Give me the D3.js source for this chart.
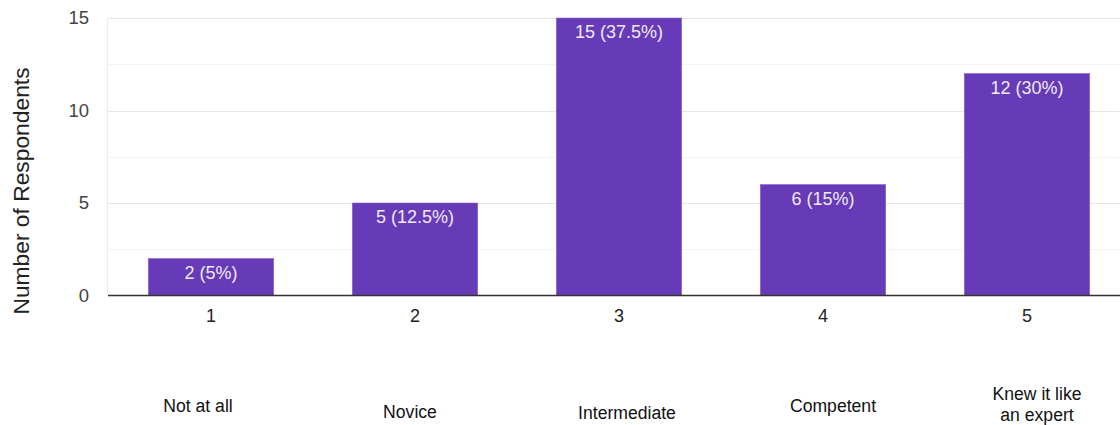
<!DOCTYPE html>
<html>
<head>
<meta charset="utf-8">
<script src="https://cdn.jsdelivr.net/npm/d3@7"></script>
<style>
  html, body { margin: 0; padding: 0; background: #fff; }
  svg { display: block; font-family: "Liberation Sans", Arial, sans-serif; }
</style>
</head>
<body>
<svg id="chart" width="1120" height="425"></svg>
<script>
const categories = ["1", "2", "3", "4", "5"];
const counts = [2, 5, 15, 6, 12];
const percents = ["5%", "12.5%", "37.5%", "15%", "30%"];
const descriptors = [["Not at all"], ["Novice"], ["Intermediate"], ["Competent"], ["Knew it like", "an expert"]];
const yTicks = [0, 5, 10, 15];
const yMinorTicks = [2.5, 7.5, 12.5];
const yTitle = "Number of Respondents";

// layout (styling only)
const descOffsetX = [-13, -5, 8, 10, 10];
const descOffsetY = [412, 418, 419, 412, 400];

const svg = d3.select("#chart");
const plotLeft = 108, plotTop = 18, plotBottom = 295.5;
const x = d3.scaleBand().domain(categories).range([plotLeft + 1, plotLeft + 1 + 5 * 204]).paddingInner(0.385).paddingOuter(0.1925);
const y = d3.scaleLinear().domain([0, 15]).range([plotBottom, plotTop]);

// minor gridlines
svg.append("g").selectAll("line").data(yMinorTicks).join("line")
  .attr("x1", plotLeft).attr("x2", 1120)
  .attr("y1", d => Math.round(y(d)) + 0.5).attr("y2", d => Math.round(y(d)) + 0.5)
  .attr("stroke", "#f3f3f3").attr("stroke-width", 1);
// major gridlines
svg.append("g").selectAll("line").data(yTicks.filter(d => d > 0)).join("line")
  .attr("x1", plotLeft).attr("x2", 1120)
  .attr("y1", d => Math.round(y(d)) + 0.5).attr("y2", d => Math.round(y(d)) + 0.5)
  .attr("stroke", "#e6e6e6").attr("stroke-width", 1);
// left border
svg.append("line").attr("x1", plotLeft - 0.5).attr("x2", plotLeft - 0.5).attr("y1", plotTop).attr("y2", plotBottom)
  .attr("stroke", "#ececec");

// y axis labels
const yAxis = d3.axisLeft(y).tickValues(yTicks).tickSize(0).tickPadding(0);
const gy = svg.append("g").attr("transform", `translate(${plotLeft - 19},0)`).call(yAxis);
gy.select(".domain").remove();
gy.selectAll("text").attr("font-size", 18.5).attr("fill", "#444").attr("font-family", "Liberation Sans, Arial, sans-serif");

// y title
svg.append("text")
  .attr("transform", `translate(28.5,191) rotate(-90)`)
  .attr("text-anchor", "middle")
  .attr("font-size", 22.8).attr("fill", "#222")
  .text(yTitle);

// bars
const data = categories.map((c, i) => ({ c, v: counts[i], p: percents[i] }));
svg.append("g").selectAll("rect").data(data).join("rect")
  .attr("x", d => x(d.c)).attr("width", x.bandwidth())
  .attr("y", d => y(d.v)).attr("height", d => y(0) - y(d.v))
  .attr("fill", "#673ab7").attr("stroke", "#8c6ad0").attr("stroke-width", 0.6);

// bar labels
svg.append("g").selectAll("text").data(data).join("text")
  .attr("x", d => x(d.c) + x.bandwidth() / 2)
  .attr("y", d => y(d.v) + 20)
  .attr("text-anchor", "middle")
  .attr("font-size", 18).attr("fill", "#eeeaf6")
  .text(d => `${d.v} (${d.p})`);

// x axis baseline
svg.append("line").attr("x1", plotLeft).attr("x2", 1120).attr("y1", plotBottom).attr("y2", plotBottom)
  .attr("stroke", "#333").attr("stroke-width", 1.3);

// x tick labels
const xAxis = d3.axisBottom(x).tickSize(0).tickPadding(0);
const gx = svg.append("g").attr("transform", `translate(0,${plotBottom + 14})`).call(xAxis);
gx.select(".domain").remove();
gx.selectAll("text").attr("font-size", 18).attr("fill", "#222").attr("font-family", "Liberation Sans, Arial, sans-serif");

// descriptor labels
const dg = svg.append("g");
descriptors.forEach((lines, i) => {
  const cx = x(categories[i]) + x.bandwidth() / 2 + descOffsetX[i];
  const t = dg.append("text")
    .attr("x", cx)
    .attr("y", descOffsetY[i])
    .attr("text-anchor", "middle")
    .attr("font-size", 17.6).attr("fill", "#111");
  lines.forEach((ln, j) => {
    t.append("tspan").attr("x", cx).attr("dy", j === 0 ? 0 : 21).text(ln);
  });
});
</script>
</body>
</html>
